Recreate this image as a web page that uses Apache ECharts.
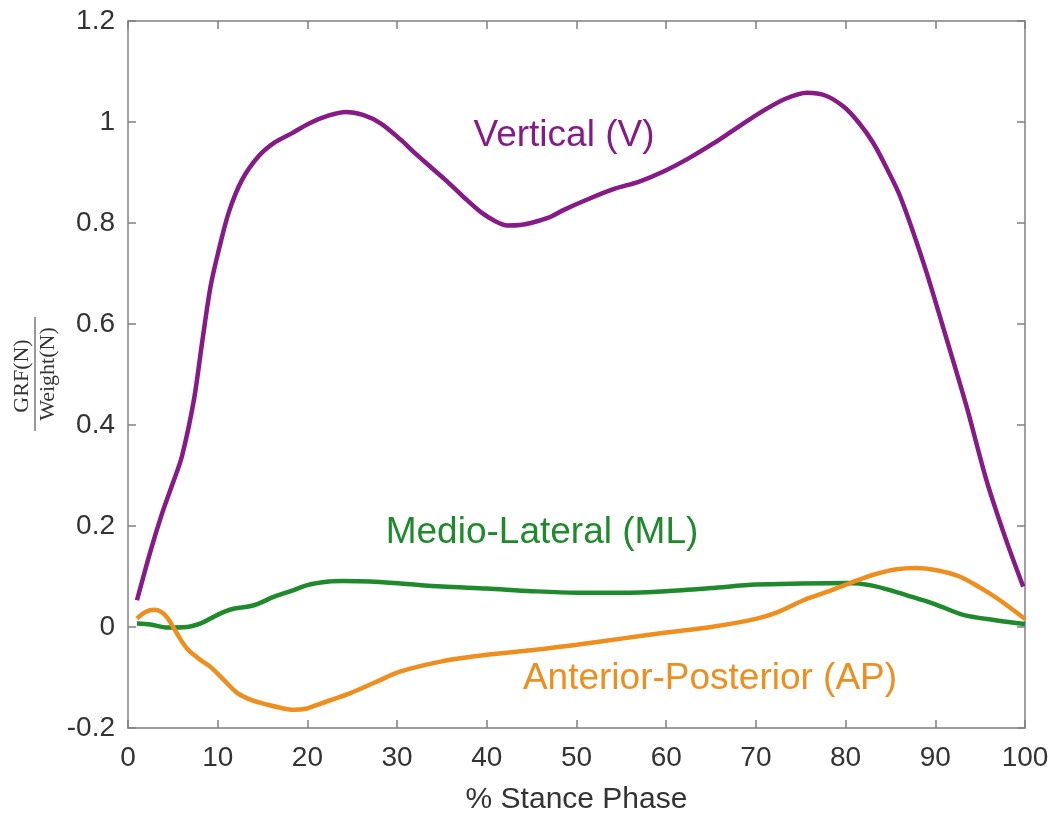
<!DOCTYPE html>
<html>
<head>
<meta charset="utf-8">
<script src="https://cdn.jsdelivr.net/npm/echarts@6/dist/echarts.min.js"></script>
<style>html,body{margin:0;padding:0;background:#fff}#c{width:1059px;height:816px}</style>
</head>
<body>
<div id="c"></div>
<script>
// X tick labels and Y tick labels are produced by the value axes (0..100 step 10, -0.2..1.2 step 0.2)
const xTicks = [0, 10, 20, 30, 40, 50, 60, 70, 80, 90, 100];
const yTicks = [-0.2, 0, 0.2, 0.4, 0.6, 0.8, 1, 1.2];

// Vertical (V)
const vX = [1, 2.5, 3.8, 5, 6, 7.35, 8.3, 9.2, 10.1, 11.25, 12.7, 14.6, 16.4, 18.3, 20.3, 22.4, 24.3, 26.2, 28.2, 30.4, 31.9, 33.8, 35.6, 37.5, 39.3, 41, 42.3, 43.7, 44.9, 46.8, 48.6, 51, 54.1, 57, 59.7, 62.5, 65.3, 68, 70.8, 73.3, 75.7, 77.8, 79.8, 81.5, 83.1, 84.6, 86.1, 88.7, 91.3, 93.5, 95.7, 97.9, 99.8];
const vY = [0.053, 0.15, 0.225, 0.285, 0.337, 0.45, 0.568, 0.674, 0.745, 0.822, 0.885, 0.933, 0.96, 0.978, 0.998, 1.013, 1.02, 1.014, 0.997, 0.965, 0.94, 0.91, 0.882, 0.85, 0.822, 0.803, 0.795, 0.796, 0.8, 0.81, 0.826, 0.845, 0.867, 0.882, 0.902, 0.928, 0.958, 0.99, 1.022, 1.046, 1.058, 1.052, 1.03, 0.998, 0.958, 0.908, 0.852, 0.72, 0.568, 0.436, 0.291, 0.172, 0.08];

// Medio-Lateral (ML)
const mlX = [1, 2.5, 4.4, 6.6, 8.1, 9.3, 10.7, 12, 13.3, 14.5, 16.3, 18.3, 20, 22.4, 24, 27, 30.4, 35, 40, 45, 50, 55, 60, 65, 70, 75, 80.2, 83, 85.5, 87.5, 90, 93.1, 96.9, 100];
const mlY = [0.007, 0.005, -0.001, 0.0, 0.007, 0.018, 0.03, 0.037, 0.04, 0.046, 0.06, 0.072, 0.083, 0.09, 0.091, 0.09, 0.086, 0.08, 0.076, 0.071, 0.068, 0.068, 0.071, 0.077, 0.084, 0.086, 0.087, 0.082, 0.07, 0.059, 0.045, 0.024, 0.013, 0.006];

// Anterior-Posterior (AP)
const apX = [1, 2, 2.9, 3.7, 4.4, 5.1, 5.9, 6.6, 7.4, 8.3, 9.2, 10.7, 12.2, 13.8, 15.6, 17, 18.5, 19.8, 21.1, 22.9, 24.8, 27.5, 30.4, 35, 40, 45, 50, 55, 60, 65, 70, 72.5, 75.3, 78, 80.5, 83, 85.5, 87.9, 90.3, 92.7, 95, 97.2, 100];
const apY = [0.017, 0.03, 0.034, 0.03, 0.018, -0.002, -0.026, -0.043, -0.056, -0.068, -0.079, -0.105, -0.131, -0.145, -0.154, -0.16, -0.164, -0.162, -0.154, -0.143, -0.131, -0.11, -0.088, -0.068, -0.055, -0.046, -0.035, -0.023, -0.011, 0.0, 0.016, 0.03, 0.053, 0.07, 0.087, 0.103, 0.114, 0.117, 0.112, 0.1, 0.078, 0.053, 0.016];

const seriesNames = ['Vertical (V)', 'Medio-Lateral (ML)', 'Anterior-Posterior (AP)'];
const colors = ['#861a86', '#1e8a2c', '#ee8e1f'];

function pairs(xs, ys) { return xs.map((x, i) => [x, ys[i]]); }

const chart = echarts.init(document.getElementById('c'));
const axisCol = '#808080';
const textCol = '#333333';
const font = 'Liberation Sans, Arial, sans-serif';

const baseX = {
  type: 'value', min: 0, max: 100, interval: 10,
  axisLine: { show: true, onZero: false, lineStyle: { color: axisCol, width: 1.5 } },
  axisTick: { show: true, inside: true, length: 8, lineStyle: { color: axisCol, width: 1.5 } },
  splitLine: { show: false }
};
const baseY = {
  type: 'value', min: -0.2, max: 1.2, interval: 0.2,
  axisLine: { show: true, onZero: false, lineStyle: { color: axisCol, width: 1.5 } },
  axisTick: { show: true, inside: true, length: 8, lineStyle: { color: axisCol, width: 1.5 } },
  splitLine: { show: false }
};

chart.setOption({
  animation: false,
  backgroundColor: '#ffffff',
  grid: { left: 128, right: 34, top: 21, bottom: 88, containLabel: false, outerBoundsMode: 'none' },
  xAxis: [
    Object.assign({}, baseX, {
      position: 'bottom',
      axisLabel: { color: textCol, fontSize: 28, fontFamily: font, margin: 16 },
      name: '% Stance Phase', nameLocation: 'middle', nameGap: 57,
      nameTextStyle: { color: textCol, fontSize: 30, fontFamily: font }
    }),
    Object.assign({}, baseX, { position: 'top', axisLabel: { show: false } })
  ],
  yAxis: [
    Object.assign({}, baseY, {
      position: 'left',
      axisLabel: { color: textCol, fontSize: 28, fontFamily: font, margin: 13 }
    }),
    Object.assign({}, baseY, { position: 'right', axisLabel: { show: false } })
  ],
  series: [
    { name: seriesNames[0], type: 'line', data: pairs(vX, vY), smooth: 0.3, showSymbol: false, lineStyle: { color: colors[0], width: 4.5 }, z: 3 },
    { name: seriesNames[1], type: 'line', data: pairs(mlX, mlY), smooth: 0.3, showSymbol: false, lineStyle: { color: colors[1], width: 4.5 }, z: 2 },
    { name: seriesNames[2], type: 'line', data: pairs(apX, apY), smooth: 0.3, showSymbol: false, lineStyle: { color: colors[2], width: 4.5 }, z: 4 }
  ],
  graphic: [
    { type: 'text', x: 564, y: 136, style: { text: seriesNames[0], fill: colors[0], font: '37px ' + font, align: 'center', verticalAlign: 'middle' } },
    { type: 'text', x: 542, y: 533, style: { text: seriesNames[1], fill: colors[1], font: '37px ' + font, align: 'center', verticalAlign: 'middle' } },
    { type: 'text', x: 710, y: 679, style: { text: seriesNames[2], fill: colors[2], font: '37px ' + font, align: 'center', verticalAlign: 'middle' } },
    { type: 'text', x: 22, y: 376, rotation: Math.PI / 2, style: { text: 'GRF(N)', fill: textCol, font: '22px Liberation Serif, Times New Roman, serif', align: 'center', verticalAlign: 'middle' } },
    { type: 'line', shape: { x1: 35, y1: 317, x2: 35, y2: 431 }, style: { stroke: '#555', lineWidth: 1.2 } },
    { type: 'text', x: 48, y: 374, rotation: Math.PI / 2, style: { text: 'Weight(N)', fill: textCol, font: '22px Liberation Serif, Times New Roman, serif', align: 'center', verticalAlign: 'middle' } }
  ]
});
</script>
</body>
</html>
